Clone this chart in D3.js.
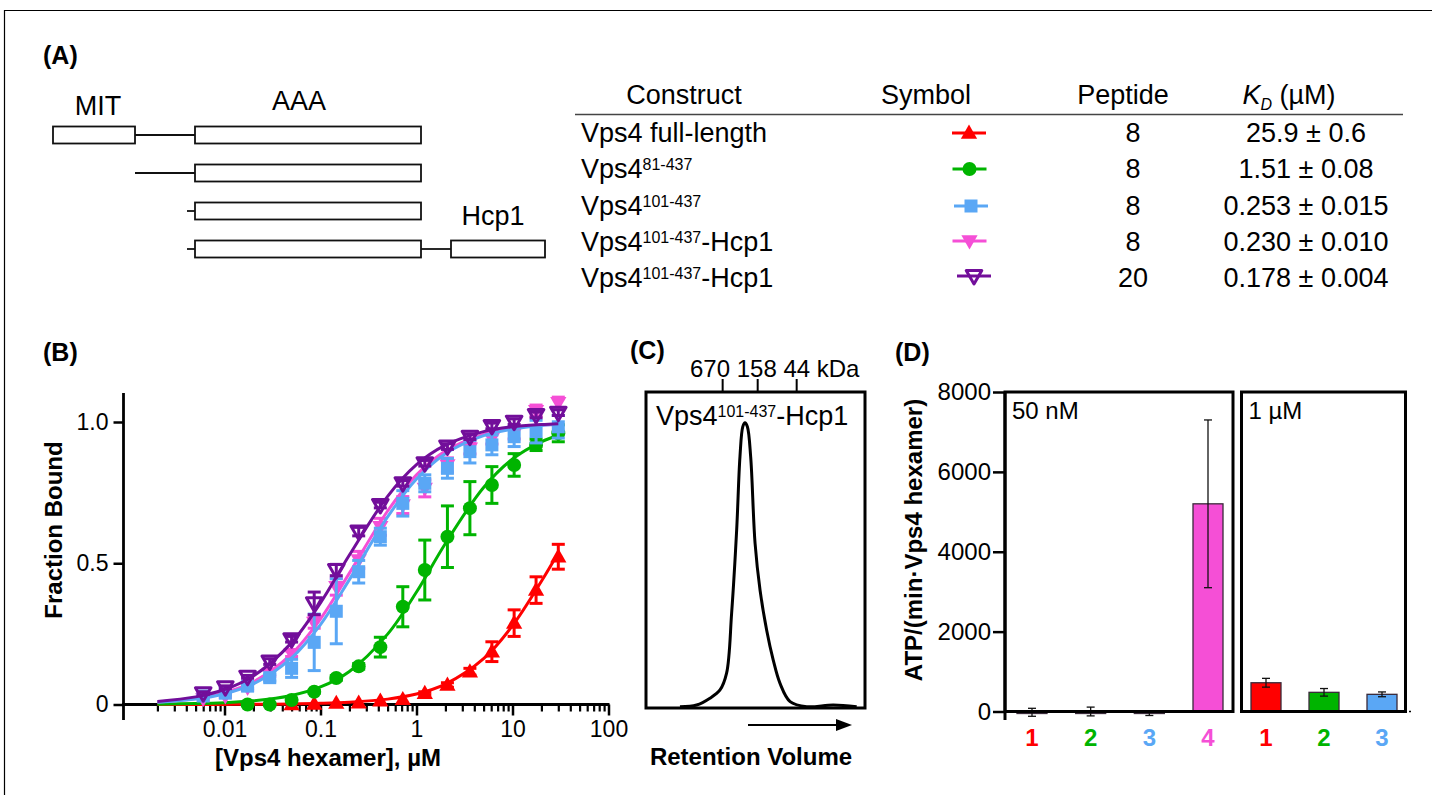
<!DOCTYPE html>
<html><head><meta charset="utf-8">
<script src="https://cdn.jsdelivr.net/npm/d3@7/dist/d3.min.js"></script>
<style>
html,body{margin:0;padding:0;background:#fff;}
svg{display:block;font-family:"Liberation Sans",Arial,Helvetica,sans-serif;}
</style></head><body>
<svg id="fig" width="1432" height="795"></svg>
<script>
// ================= DATA =================
// Panel A: schematic domain layout (schematic units along the construct)
const diagramRows = [
  [["line",82,142],["box",0,82],["box",142,368]],
  [["line",82,142],["box",142,368]],
  [["line",134,142],["box",142,368]],
  [["line",134,142],["line",368,398],["box",142,368],["box",398,492]]
];
const domainLabels = ["MIT","AAA","Hcp1"];
const tableHeaders = ["Construct","Symbol","Peptide","K","D"," (µM)"];
const constructBase = ["Vps4 full-length","Vps4","Vps4","Vps4","Vps4"];
const constructSup = ["","81-437","101-437","101-437","101-437"];
const constructSuffix = ["","","","-Hcp1","-Hcp1"];
const peptides = ["8","8","8","8","20"];
const kdValues = ["25.9 ± 0.6","1.51 ± 0.08","0.253 ± 0.015","0.230 ± 0.010","0.178 ± 0.004"];
const seriesKeys = ["fl","d81","d101","hcp8","hcp20"];

// Panel B: binding data (concentration in µM, fraction bound, SD)
const conc = [0.006,0.0102,0.0174,0.0296,0.050,0.086,0.146,0.25,0.42,0.72,1.22,2.1,3.6,6.1,10.4,17.6,30];
const flConc = conc.slice(4);
const flBound = [0.0,0.002,0.005,0.006,0.013,0.018,0.04,0.069,0.116,0.187,0.288,0.405,0.523];
const flErr   = [0,0,0,0,0,0,0.005,0.008,0.012,0.035,0.047,0.047,0.044];
const d81Conc = conc.slice(2);
const d81Bound = [0.0,0.0,0.016,0.045,0.094,0.135,0.203,0.346,0.476,0.594,0.695,0.777,0.848,0.919,0.96];
const d81Err   = [0,0,0,0.005,0.008,0.01,0.035,0.071,0.106,0.109,0.094,0.065,0.04,0.02,0.03];
const d101Conc = conc;
const d101Bound = [0.03,0.04,0.065,0.095,0.128,0.22,0.33,0.47,0.594,0.712,0.783,0.836,0.895,0.919,0.948,0.966,0.983];
const d101Err   = [0.005,0.005,0.008,0.012,0.032,0.1,0.115,0.04,0.03,0.045,0.03,0.035,0.04,0.035,0.035,0.04,0.04];
const hcp8Conc = conc;
const hcp8Bound = [0.02,0.03,0.06,0.11,0.18,0.29,0.417,0.512,0.629,0.706,0.765,0.848,0.907,0.942,0.96,1.04,1.068];
const hcp8Err   = [0.005,0.005,0.01,0.01,0.01,0.02,0.03,0.03,0.03,0.03,0.03,0.025,0.02,0.02,0.02,0.02,0.02];
const hcp20Conc = conc;
const hcp20Bound = [0.04,0.061,0.098,0.152,0.231,0.358,0.476,0.612,0.706,0.783,0.854,0.913,0.948,0.986,1.001,1.025,1.033];
const hcp20Err   = [0.005,0.005,0.005,0.01,0.01,0.04,0.02,0.015,0.01,0.01,0.01,0.01,0.01,0.01,0.01,0.01,0.01];
// fitted curves
const fitConc = [0.002,0.005,0.01,0.02,0.05,0.1,0.2,0.5,1,2,5,10,20,30];
const fitFl    = [0.0001,0.0002,0.0004,0.0008,0.002,0.004,0.008,0.019,0.037,0.072,0.162,0.279,0.436,0.537];
const fitD81   = [0.0013,0.0033,0.0066,0.013,0.032,0.062,0.117,0.249,0.398,0.570,0.768,0.869,0.930,0.952];
const fitD101  = [0.0078,0.019,0.038,0.073,0.165,0.283,0.442,0.664,0.798,0.888,0.952,0.975,0.988,0.992];
const fitHcp8  = [0.0086,0.021,0.042,0.080,0.179,0.303,0.465,0.685,0.813,0.897,0.956,0.978,0.989,0.992];
const fitHcp20 = [0.011,0.027,0.053,0.101,0.219,0.360,0.529,0.737,0.849,0.918,0.966,0.983,0.991,0.994];
const yTicksB = [0,0.5,1.0];
const yTickLabelsB = ["0","0.5","1.0"];
const xTicksB = [0.01,0.1,1,10,100];
const xTickLabelsB = ["0.01","0.1","1","10","100"];

// Panel C: size-exclusion trace (retention volume, arbitrary units; normalized absorbance)
const secVol = [15.5,23.1,29.2,33.8,36.8,39.1,41.4,42.9,44.2,45.2,46.3,47.8,49.8,52.1,55.1,58.1,61.2,65.8,73.4,85.5,96.2];
const secAbs = [0.001,0.007,0.031,0.06,0.119,0.33,0.623,0.88,0.986,1.0,0.986,0.88,0.576,0.41,0.27,0.165,0.083,0.019,0.001,0.007,0.001];
const mwMarkerVol = [35,51,68.8];
const mwMarkerLabels = ["670","158","44"];

// Panel D: ATPase rates
const atpPanels = ["50 nM","1 µM"];
const cats50 = ["1","2","3","4"];
const atp50 = [-20,0,-40,5200];
const atp50Err = [100,110,60,2100];
const cats1 = ["1","2","3"];
const atp1 = [720,480,430];
const atp1Err = [110,95,60];
const yTicksD = [0,2000,4000,6000,8000];

// ================= STYLE =================
const COL = {fl:"#ff0000", d81:"#00b400", d101:"#5aa7f5", hcp8:"#f54fd6", hcp20:"#720e9a"};
const catColor = {"1":COL.fl,"2":COL.d81,"3":COL.d101,"4":COL.hcp8};

const svg = d3.select("#fig");
function txt(g,x,y,s,o={}){
  return g.append("text").attr("x",x).attr("y",y).text(s)
    .attr("font-size",o.size||27).attr("font-weight",o.bold?"bold":null)
    .attr("text-anchor",o.anchor||"start").attr("fill",o.fill||"#000");
}
function supText(g,x,y,base,sup,suffix,o={}){
  const t = g.append("text").attr("x",x).attr("y",y).attr("font-size",27).attr("text-anchor",o.anchor||"start");
  t.append("tspan").text(base);
  if(sup){ t.append("tspan").attr("font-size",16).attr("dy",-8).text(sup);
           t.append("tspan").attr("dy",8).text(suffix||""); }
  return t;
}
function drawMarker(g,key,x,y){
  const sym = d3.symbol();
  if(key==="fl") g.append("path").attr("d",sym.type(d3.symbolTriangle).size(115)()).attr("transform",`translate(${x},${y+1})`).attr("fill",COL.fl);
  else if(key==="d81") g.append("circle").attr("cx",x).attr("cy",y).attr("r",7).attr("fill",COL.d81);
  else if(key==="d101") g.append("rect").attr("x",x-6.5).attr("y",y-6.5).attr("width",13).attr("height",13).attr("fill",COL.d101);
  else if(key==="hcp8") g.append("path").attr("d",sym.type(d3.symbolTriangle).size(115)()).attr("transform",`translate(${x},${y-1}) rotate(180)`).attr("fill",COL.hcp8);
  else g.append("path").attr("d",sym.type(d3.symbolTriangle).size(105)()).attr("transform",`translate(${x},${y-1}) rotate(180)`).attr("fill","none").attr("stroke",COL.hcp20).attr("stroke-width",3).attr("stroke-linejoin","round");
}

// frame lines
svg.append("line").attr("x1",4).attr("x2",1432).attr("y1",10.5).attr("y2",10.5).attr("stroke","#000").attr("stroke-width",1.2);
svg.append("line").attr("x1",4.5).attr("x2",4.5).attr("y1",10).attr("y2",795).attr("stroke","#000").attr("stroke-width",1.2);

// panel labels
const panelLabelPos = [[43,64],[43,361],[630,359],[895,361]];
["(A)","(B)","(C)","(D)"].forEach((s,i)=>txt(svg,panelLabelPos[i][0],panelLabelPos[i][1],s,{size:25,bold:true}));

// ================= PANEL A =================
const gA = svg.append("g");
const xA = d3.scaleLinear().domain([0,492]).range([53,545]);
const yA = d3.scalePoint().domain(d3.range(diagramRows.length)).range([135,249]);
diagramRows.forEach((segs,i)=>{
  segs.forEach(([type,a,b])=>{
    if(type==="box") gA.append("rect").attr("x",xA(a)).attr("y",yA(i)-8.5).attr("width",xA(b)-xA(a)).attr("height",17)
      .attr("fill","#fff").attr("stroke","#111").attr("stroke-width",1.8);
    else gA.append("line").attr("x1",xA(a)).attr("x2",xA(b)).attr("y1",yA(i)).attr("y2",yA(i)).attr("stroke","#111").attr("stroke-width",1.8);
  });
});
txt(gA,98,115,domainLabels[0],{anchor:"middle"});
txt(gA,299,110,domainLabels[1],{anchor:"middle"});
txt(gA,493,225,domainLabels[2],{anchor:"middle"});

// table
const gT = svg.append("g");
txt(gT,684,104,tableHeaders[0],{anchor:"middle"});
txt(gT,926,104,tableHeaders[1],{anchor:"middle"});
txt(gT,1123,104,tableHeaders[2],{anchor:"middle"});
const kd = gT.append("text").attr("x",1289).attr("y",104).attr("font-size",27).attr("text-anchor","middle");
kd.append("tspan").attr("font-style","italic").text(tableHeaders[3]);
kd.append("tspan").attr("font-style","italic").attr("font-size",16).attr("dy",6).text(tableHeaders[4]);
kd.append("tspan").attr("dy",-6).text(tableHeaders[5]);
gT.append("line").attr("x1",575).attr("x2",1403).attr("y1",114.5).attr("y2",114.5).attr("stroke","#444").attr("stroke-width",1.3);
const rowY = d3.scalePoint().domain(d3.range(5)).range([142,287]);
const legY = [133,169,206,241,276];
const legX = [969,969.5,971,969.5,974];
seriesKeys.forEach((k,i)=>{
  supText(gT,581,rowY(i),constructBase[i],constructSup[i],constructSuffix[i]);
  txt(gT,1133,rowY(i),peptides[i],{anchor:"middle"});
  txt(gT,1306,rowY(i),kdValues[i],{anchor:"middle"});
  gT.append("line").attr("x1",legX[i]-17).attr("x2",legX[i]+17).attr("y1",legY[i]).attr("y2",legY[i]).attr("stroke",COL[k]).attr("stroke-width",3);
  drawMarker(gT,k,legX[i],legY[i]);
});

// ================= PANEL B =================
const gB = svg.append("g");
const xB = d3.scaleLog().domain([0.001,100]).range([128.5,608.5]);
const yB = d3.scaleLinear().domain([0,1]).range([704.5,422]);
// y axis
const gyB = gB.append("g").attr("transform","translate(123.5,0)")
  .call(d3.axisLeft(yB).tickValues(yTicksB).tickFormat((d,i)=>yTickLabelsB[i]).tickSize(10).tickPadding(5));
gyB.select(".domain").remove();
gyB.selectAll("line").attr("stroke","#000").attr("stroke-width",2.5);
gyB.selectAll("text").attr("font-size",23).attr("fill","#000").attr("font-family",null);
gB.append("line").attr("x1",123.5).attr("x2",123.5).attr("y1",393).attr("y2",720).attr("stroke","#000").attr("stroke-width",2.8);
// x axis
const minorTicks = xB.ticks().filter(d=>d>0.0011 && !xTicksB.some(m=>Math.abs(m-d)/m<1e-6));
const gxm = gB.append("g").attr("transform","translate(0,704.5)").call(d3.axisBottom(xB).tickValues(minorTicks).tickFormat("").tickSize(7));
gxm.select(".domain").remove();
gxm.selectAll("line").attr("stroke","#000").attr("stroke-width",2.2);
const gxB = gB.append("g").attr("transform","translate(0,704.5)")
  .call(d3.axisBottom(xB).tickValues(xTicksB).tickFormat((d,i)=>xTickLabelsB[i]).tickSize(11).tickPadding(5));
gxB.select(".domain").remove();
gxB.selectAll("line").attr("stroke","#000").attr("stroke-width",2.5);
gxB.selectAll("text").attr("font-size",23).attr("fill","#000").attr("font-family",null);
gB.append("line").attr("x1",122).attr("x2",609.5).attr("y1",704.5).attr("y2",704.5).attr("stroke","#000").attr("stroke-width",3);
// axis titles
txt(gB,328,766,"[Vps4 hexamer], µM",{size:24,bold:true,anchor:"middle"});
txt(gB,0,0,"Fraction Bound",{size:24,bold:true,anchor:"middle"}).attr("transform","translate(62,530) rotate(-90)");

const seriesB = [
  {k:"fl",c:flConc,v:flBound,e:flErr,fit:fitFl},
  {k:"d81",c:d81Conc,v:d81Bound,e:d81Err,fit:fitD81},
  {k:"hcp8",c:hcp8Conc,v:hcp8Bound,e:hcp8Err,fit:fitHcp8},
  {k:"d101",c:d101Conc,v:d101Bound,e:d101Err,fit:fitD101},
  {k:"hcp20",c:hcp20Conc,v:hcp20Bound,e:hcp20Err,fit:fitHcp20}
];
const lineB = d3.line().x(d=>xB(d[0])).y(d=>yB(d[1])).curve(d3.curveCatmullRom.alpha(0.5));
seriesB.forEach(s=>{
  const g = gB.append("g");
  g.append("path").attr("d",lineB(fitConc.map((c,i)=>[c,s.fit[i]]))).attr("fill","none").attr("stroke",COL[s.k]).attr("stroke-width",3);
  s.c.forEach((c,i)=>{
    const e = s.e[i]; if(e<=0) return;
    const x = xB(c), y1 = yB(s.v[i]-e), y2 = yB(s.v[i]+e);
    g.append("line").attr("x1",x).attr("x2",x).attr("y1",y1).attr("y2",y2).attr("stroke",COL[s.k]).attr("stroke-width",3);
    [y1,y2].forEach(y=>g.append("line").attr("x1",x-6.5).attr("x2",x+6.5).attr("y1",y).attr("y2",y).attr("stroke",COL[s.k]).attr("stroke-width",3));
  });
  s.c.forEach((c,i)=>drawMarker(g,s.k,xB(c),yB(s.v[i])));
});

// ================= PANEL C =================
const gC = svg.append("g");
const xC = d3.scaleLinear().domain([0,100]).range([646,865]);
const yC = d3.scaleLinear().domain([0,1]).range([707,422.7]);
gC.append("rect").attr("x",646).attr("y",392).attr("width",219).attr("height",316).attr("fill","none").attr("stroke","#000").attr("stroke-width",3);
mwMarkerVol.forEach(v=>gC.append("line").attr("x1",xC(v)).attr("x2",xC(v)).attr("y1",379).attr("y2",392).attr("stroke","#000").attr("stroke-width",2));
txt(gC,690,377,mwMarkerLabels.join(" ")+" kDa",{size:24});
supText(gC,656,425,"Vps4","101-437","-Hcp1");
gC.append("path").attr("d",d3.line().x((d,i)=>xC(secVol[i])).y(d=>yC(d)).curve(d3.curveCatmullRom.alpha(0.5))(secAbs))
  .attr("fill","none").attr("stroke","#000").attr("stroke-width",3).attr("stroke-linejoin","round");
gC.append("line").attr("x1",748).attr("x2",838).attr("y1",725).attr("y2",725).attr("stroke","#000").attr("stroke-width",2.2);
gC.append("path").attr("d","M836,719 L852,725 L836,731 Z").attr("fill","#000");
txt(gC,751,765,"Retention Volume",{size:24,bold:true,anchor:"middle"});

// ================= PANEL D =================
const gD = svg.append("g");
const yD = d3.scaleLinear().domain([0,8000]).range([711.5,392]);
const gyD = gD.append("g").attr("transform","translate(1005,0)")
  .call(d3.axisLeft(yD).tickValues(yTicksD).tickFormat(d3.format("d")).tickSize(12).tickPadding(2));
gyD.select(".domain").remove();
gyD.selectAll("line").attr("stroke","#000").attr("stroke-width",2.5);
gyD.selectAll("text").attr("font-size",24).attr("fill","#000").attr("font-family",null);
gD.append("line").attr("x1",1005).attr("x2",1005).attr("y1",392).attr("y2",720).attr("stroke","#000").attr("stroke-width",3);
txt(gD,0,0,"ATP/(min·Vps4 hexamer)",{size:24,bold:true,anchor:"middle"}).attr("transform","translate(922,540) rotate(-90)");

const panelsD = [
  {title:atpPanels[0],cats:cats50,vals:atp50,errs:atp50Err,x0:1005,x1:1233,range:[1032,1208]},
  {title:atpPanels[1],cats:cats1,vals:atp1,errs:atp1Err,x0:1241.5,x1:1405.5,range:[1266,1382]}
];
panelsD.forEach(p=>{
  const xs = d3.scalePoint().domain(p.cats).range(p.range);
  p.cats.forEach((c,i)=>{
    const v = p.vals[i], x = xs(c);
    const yTop = yD(Math.max(0,v)), yBot = yD(Math.min(0,v));
    gD.append("rect").attr("x",x-15).attr("y",yTop).attr("width",30).attr("height",Math.max(2,yBot-yTop))
      .attr("fill",catColor[c]).attr("stroke","#3a2a3a").attr("stroke-width",1.3);
    const e = p.errs[i], ya = yD(v-e), yb = yD(v+e);
    gD.append("line").attr("x1",x).attr("x2",x).attr("y1",ya).attr("y2",yb).attr("stroke","#111").attr("stroke-width",1.3);
    [ya,yb].forEach(y=>gD.append("line").attr("x1",x-4).attr("x2",x+4).attr("y1",y).attr("y2",y).attr("stroke","#111").attr("stroke-width",1.3));
    txt(gD,x,746,c,{size:24,bold:true,anchor:"middle",fill:catColor[c]});
  });
  gD.append("rect").attr("x",p.x0).attr("y",392).attr("width",p.x1-p.x0).attr("height",711.5-392).attr("fill","none").attr("stroke","#000").attr("stroke-width",3);
  txt(gD,p.x0+7,419,p.title,{size:24});
});
gD.append("line").attr("x1",1409).attr("x2",1411).attr("y1",711.5).attr("y2",711.5).attr("stroke","#000").attr("stroke-width",1.5);
</script>
</body></html>
